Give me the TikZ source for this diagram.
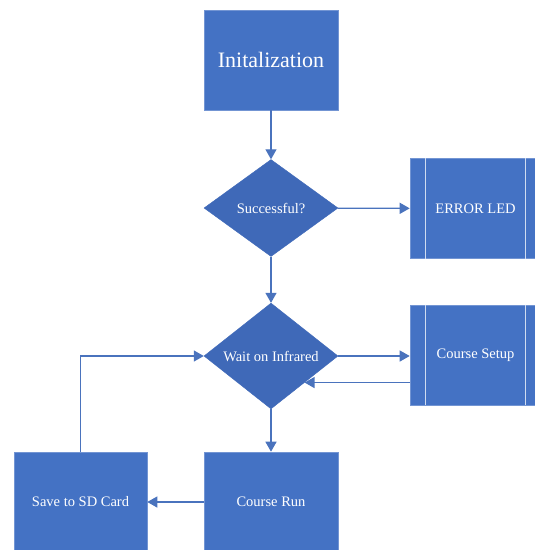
\documentclass[tikz,border=0pt]{standalone}
\usepackage{fontspec}
\setmainfont{Liberation Serif}
\usetikzlibrary{shapes.geometric,arrows.meta}
\definecolor{boxblue}{HTML}{4472C4}
\definecolor{diablue}{HTML}{3F69B8}
\definecolor{lineblue}{HTML}{4A73BD}

\begin{document}
\begin{tikzpicture}[x=1pt,y=-1pt,
  proc/.style={rectangle, fill=boxblue, draw=boxblue!75!white, line width=0.6pt,
    text=white, minimum width=134pt, minimum height=100pt, inner sep=0pt,
    font=\fontsize{14.5}{16}\selectfont},
  ppro/.style={proc, minimum width=131pt},
  dec/.style={diamond, fill=diablue, draw=diablue, text=white,
    minimum width=134pt, minimum height=100pt, inner sep=0pt,
    font=\fontsize{14.5}{16}\selectfont},
  flow/.style={draw=lineblue, line width=1.3pt, -{Triangle[length=10pt,width=11pt]}}]
\def\xm{271};
\def\xl{80.5};
\def\xr{475.5};

\useasboundingbox (0,0) rectangle (535,550);

\node[proc, font=\fontsize{22}{24}\selectfont] (init) at (\xm,60) {Initalization};
\node[dec, minimum height=97pt] (succ) at (\xm,208) {Successful?};
\node[ppro] (err) at (\xr,208.5) {ERROR LED};

\node[dec, minimum height=103pt] (wait) at (\xm,356) {Wait on Infrared};
\node[ppro] (setup) at (\xr,355) {Course Setup};

\node[proc] (run) at (\xm,502) {Course Run};
\node[proc, minimum width=133pt] (save) at (\xl,502) {Save to SD Card};

% side bars of the predefined process boxes
\foreach \n in {err,setup}{
  \draw[white!75!boxblue, line width=0.8pt] ([xshift=16pt]\n.north west) -- ([xshift=16pt]\n.south west);
  \draw[white!75!boxblue, line width=0.8pt] ([xshift=-16pt]\n.north east) -- ([xshift=-16pt]\n.south east);
}

\draw[flow] (init) -- (succ);
\draw[flow] (succ) -- (err);
\draw[flow] (succ) -- (wait);
\draw[flow] (wait.east) -- (wait.east -| setup.west);
\draw[flow] (wait.south east -| setup.west) -- (wait.south east);
\draw[flow] (wait) -- (run);
\draw[flow] (run) -- (save);
\draw[flow] (save.north) |- (wait.west);

\end{tikzpicture}
\end{document}
